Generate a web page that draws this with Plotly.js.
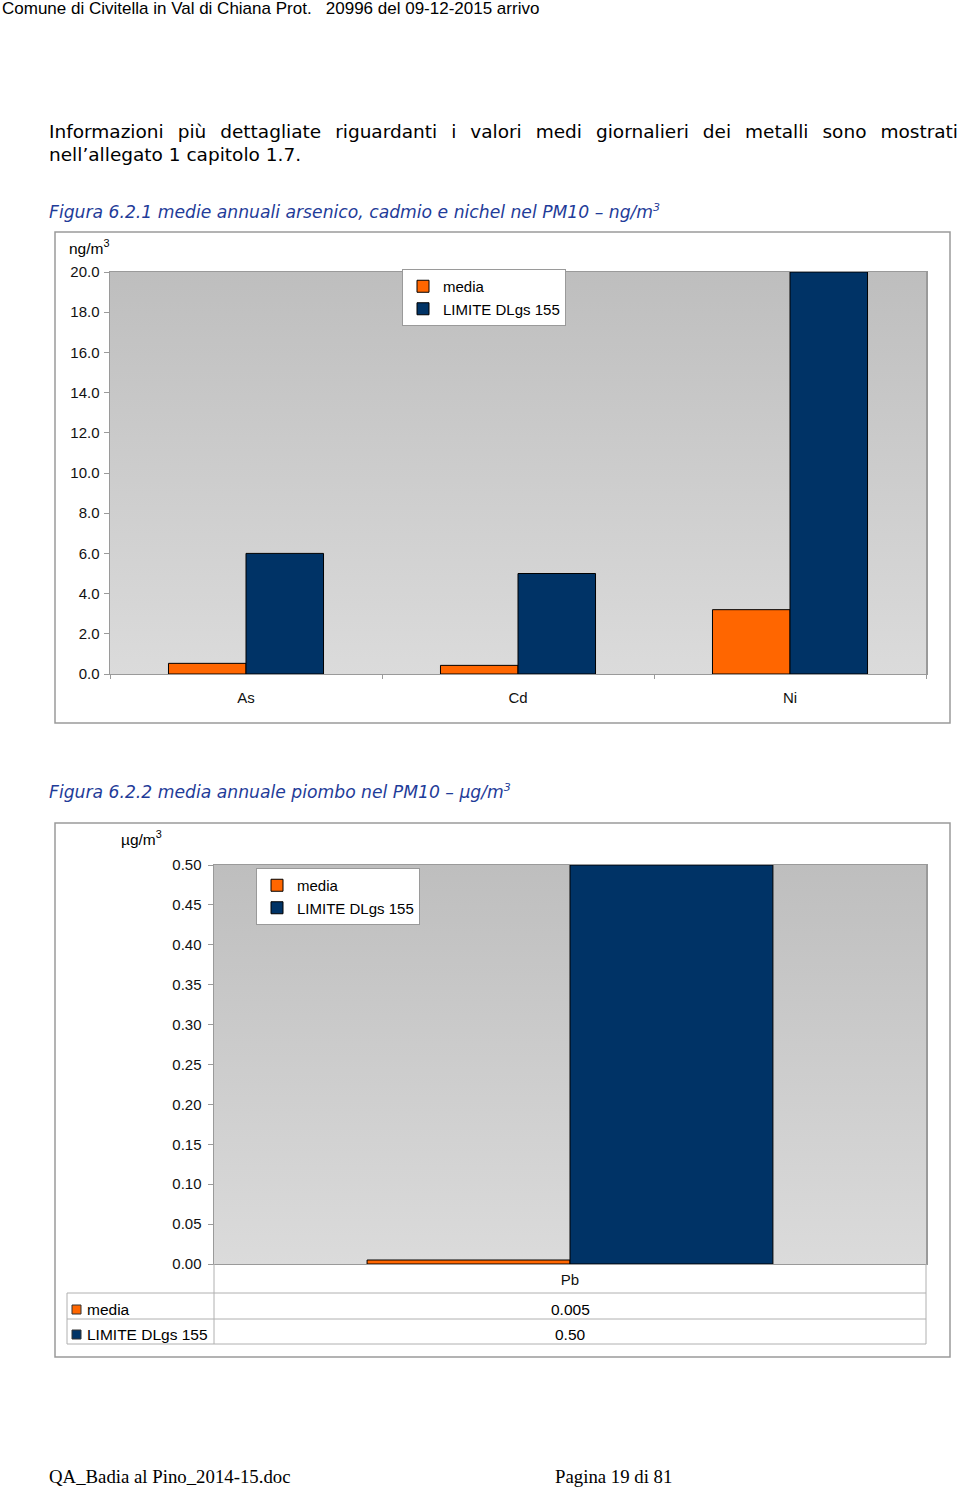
<!DOCTYPE html>
<html>
<head>
<meta charset="utf-8">
<script src="https://cdn.plot.ly/plotly-3.0.1.min.js"></script>
<style>
  html, body { margin:0; padding:0; background:#fff; }
  #page { position:relative; width:960px; height:1489px; overflow:hidden; }
  #chart { position:absolute; left:0; top:0; width:960px; height:1489px; }
  .t { position:absolute; white-space:pre; z-index:5; pointer-events:none; color:#000; }
</style>
</head>
<body>
<div id="page">
  <div id="chart"></div>
  <div class="t" id="hdr" style="left:2px; top:0px; font-family:'Liberation Sans',Arial,sans-serif; font-size:17px; line-height:18px;">Comune di Civitella in Val di Chiana Prot.   20996 del 09-12-2015 arrivo</div>
  <div class="t" id="para" style="left:49px; top:120px; width:909px; white-space:normal; text-align:justify; font-family:'DejaVu Sans',Verdana,sans-serif; font-size:18.5px; line-height:23px;">Informazioni più dettagliate riguardanti i valori medi giornalieri dei metalli sono mostrati nell’allegato 1 capitolo 1.7.</div>
  <div class="t" id="cap1" style="left:49px; top:196px; font-family:'DejaVu Sans',Verdana,sans-serif; font-style:italic; font-size:17.2px; line-height:24px; color:#1f3c99;">Figura 6.2.1 medie annuali arsenico, cadmio e nichel nel PM10 – ng/m<sup style="font-size:11px;">3</sup></div>
  <div class="t" id="cap2" style="left:49px; top:776px; font-family:'DejaVu Sans',Verdana,sans-serif; font-style:italic; font-size:17.2px; line-height:24px; color:#1f3c99;">Figura 6.2.2 media annuale piombo nel PM10 – µg/m<sup style="font-size:11px;">3</sup></div>
  <div class="t" id="ft1" style="left:49px; top:1465px; font-family:'Liberation Serif','Times New Roman',serif; font-size:18.8px; line-height:24px;">QA_Badia al Pino_2014-15.doc</div>
  <div class="t" id="ft2" style="left:555px; top:1465px; font-family:'Liberation Serif','Times New Roman',serif; font-size:18.8px; line-height:24px;">Pagina 19 di 81</div>
</div>
<script>
// ---- data ----
const metals1 = ['As', 'Cd', 'Ni'];
const media1 = [0.53, 0.43, 3.2];
const limit1 = [6.0, 5.0, 20.0];

const metals2 = ['Pb'];
const media2 = [0.005];
const limit2 = [0.50];

const seriesNames = ['media', 'LIMITE DLgs 155'];
const unit1 = 'ng/m<sup>3</sup>';
const unit2 = 'µg/m<sup>3</sup>';

// ---- layout helpers (pixel -> paper) ----
const W = 960, H = 1489;
const px = v => v / W;
const py = v => 1 - v / H;

const ORANGE = '#ff6600', NAVY = '#003366';
const FONT = 'Liberation Sans, Arial, sans-serif';
const GREY = '#9a9a9a';

const grad = 'data:image/svg+xml;utf8,' + encodeURIComponent(
  '<svg xmlns="http://www.w3.org/2000/svg" width="100" height="100" preserveAspectRatio="none">' +
  '<defs><linearGradient id="g" x1="0" y1="0" x2="0" y2="1">' +
  '<stop offset="0" stop-color="#bebebe"/><stop offset="1" stop-color="#dbdbdb"/>' +
  '</linearGradient></defs><rect width="100" height="100" fill="url(#g)"/></svg>');

const barLine = {color: '#000', width: 1};

const traces = [
  {type:'bar', name: seriesNames[0], x: metals1, y: media1, xaxis:'x', yaxis:'y',
   marker:{color: ORANGE, line: barLine}, legend:'legend', hoverinfo:'skip'},
  {type:'bar', name: seriesNames[1], x: metals1, y: limit1, xaxis:'x', yaxis:'y',
   marker:{color: NAVY, line: barLine}, legend:'legend', hoverinfo:'skip'},
  {type:'bar', name: seriesNames[0], x: metals2, y: media2, xaxis:'x2', yaxis:'y2',
   marker:{color: ORANGE, line: barLine}, legend:'legend2', hoverinfo:'skip'},
  {type:'bar', name: seriesNames[1], x: metals2, y: limit2, xaxis:'x2', yaxis:'y2',
   marker:{color: NAVY, line: barLine}, legend:'legend2', hoverinfo:'skip'}
];

const tickFont = {family: FONT, size: 15, color: '#111'};

const legendBase = {
  xanchor:'left', yanchor:'top', bgcolor:'#fff', bordercolor: GREY, borderwidth:1,
  font:{family: FONT, size:15, color:'#000'}, itemwidth:30, tracegroupgap:0,
  traceorder:'normal', valign:'middle'
};

// table under chart 2
const tblTop = 1293, tblMid = 1319, tblBot = 1344;
const lineC = {color:'#b0b0b0', width:1};
const shapes = [
  // chart frames
  {type:'rect', xref:'paper', yref:'paper', x0:px(55), x1:px(950), y0:py(232), y1:py(723), line:{color:GREY, width:1.5}},
  {type:'rect', xref:'paper', yref:'paper', x0:px(55), x1:px(950), y0:py(823), y1:py(1357), line:{color:GREY, width:1.5}},
  // table lines
  {type:'line', xref:'paper', yref:'paper', x0:px(67), x1:px(926), y0:py(tblTop), y1:py(tblTop), line:lineC},
  {type:'line', xref:'paper', yref:'paper', x0:px(67), x1:px(926), y0:py(tblMid), y1:py(tblMid), line:lineC},
  {type:'line', xref:'paper', yref:'paper', x0:px(67), x1:px(926), y0:py(tblBot), y1:py(tblBot), line:lineC},
  {type:'line', xref:'paper', yref:'paper', x0:px(67), x1:px(67), y0:py(tblTop), y1:py(tblBot), line:lineC},
  {type:'line', xref:'paper', yref:'paper', x0:px(214), x1:px(214), y0:py(1264), y1:py(tblBot), line:lineC},
  {type:'line', xref:'paper', yref:'paper', x0:px(926), x1:px(926), y0:py(1264), y1:py(tblBot), line:lineC},
  // table legend keys
  {type:'rect', xref:'paper', yref:'paper', x0:px(72), x1:px(81), y0:py(1305), y1:py(1314), fillcolor:ORANGE, line:{color:'#333', width:1}},
  {type:'rect', xref:'paper', yref:'paper', x0:px(72), x1:px(81), y0:py(1330), y1:py(1339), fillcolor:NAVY, line:{color:'#333', width:1}}
];

const annFont = {family: FONT, size: 15.5, color:'#000'};
const annotations = [
  {xref:'paper', yref:'paper', x:px(67), y:py(247), xanchor:'left', yanchor:'middle', text: unit1, showarrow:false, font: annFont},
  {xref:'paper', yref:'paper', x:px(119), y:py(838), xanchor:'left', yanchor:'middle', text: unit2, showarrow:false, font: annFont},
  {xref:'paper', yref:'paper', x:px(85), y:py(1309), xanchor:'left', yanchor:'middle', text: seriesNames[0], showarrow:false, font: annFont},
  {xref:'paper', yref:'paper', x:px(85), y:py(1334), xanchor:'left', yanchor:'middle', text: seriesNames[1], showarrow:false, font: annFont},
  {xref:'x2', yref:'paper', x: metals2[0], y:py(1309), xanchor:'center', yanchor:'middle', text: media2[0].toFixed(3), showarrow:false, font: annFont},
  {xref:'x2', yref:'paper', x: metals2[0], y:py(1334), xanchor:'center', yanchor:'middle', text: limit2[0].toFixed(2), showarrow:false, font: annFont}
];

const layout = {
  width: W, height: H,
  margin: {l:0, r:0, t:0, b:0, pad:0},
  paper_bgcolor:'#fff', plot_bgcolor:'rgba(0,0,0,0)',
  barmode:'group', bargap:0.43, bargroupgap:0,
  showlegend:true,
  legend: Object.assign({}, legendBase, {x: px(402), y: py(269)}),
  legend2: Object.assign({}, legendBase, {x: px(256), y: py(868)}),
  xaxis: {domain:[px(110), px(926)], anchor:'y', type:'category', categoryorder:'array', categoryarray: metals1,
          range:[-0.5, 2.5], showline:true, linecolor:GREY, linewidth:1, mirror:true,
          ticks:'outside', tickson:'boundaries', ticklen:4, tickcolor:GREY, tickfont: tickFont,
          ticklabelstandoff: 10, showgrid:false, zeroline:false, fixedrange:true},
  yaxis: {domain:[py(674), py(272)], anchor:'x', range:[0, 20], dtick:2, tick0:0, tickformat:'.1f',
          showline:true, linecolor:GREY, linewidth:1.5, mirror:true, ticks:'outside', ticklen:5, tickcolor:GREY,
          tickfont: tickFont, ticklabelstandoff: 1, showgrid:false, zeroline:false, fixedrange:true},
  xaxis2: {domain:[px(214), px(926)], anchor:'y2', type:'category', categoryarray: metals2, categoryorder:'array',
          range:[-0.5, 0.5], showline:true, linecolor:GREY, linewidth:1, mirror:true,
          ticks:'', tickfont: tickFont, ticklabelstandoff: 2, showgrid:false, zeroline:false, fixedrange:true},
  yaxis2: {domain:[py(1264), py(865)], anchor:'x2', range:[0, 0.5], dtick:0.05, tick0:0, tickformat:'.2f',
          showline:true, linecolor:GREY, linewidth:1.5, mirror:true, ticks:'outside', ticklen:5, tickcolor:GREY,
          tickfont: tickFont, ticklabelstandoff: 3, showgrid:false, zeroline:false, fixedrange:true},
  images: [
    {source: grad, xref:'x domain', yref:'y domain', x:0, y:1, sizex:1, sizey:1, sizing:'stretch', xanchor:'left', yanchor:'top', layer:'below'},
    {source: grad, xref:'x2 domain', yref:'y2 domain', x:0, y:1, sizex:1, sizey:1, sizing:'stretch', xanchor:'left', yanchor:'top', layer:'below'}
  ],
  shapes: shapes,
  annotations: annotations
};

Plotly.newPlot('chart', traces, layout, {staticPlot:true, displayModeBar:false});
</script>
</body>
</html>
